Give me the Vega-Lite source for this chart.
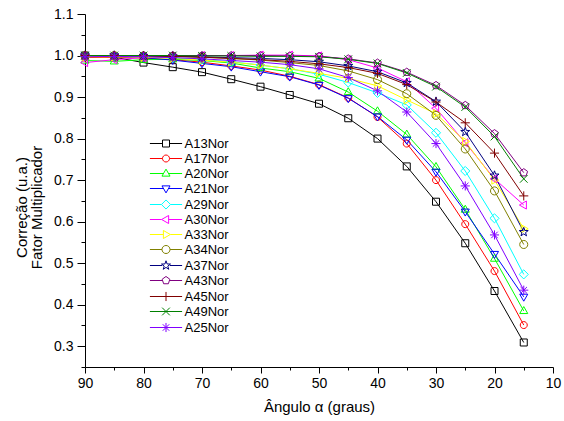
{
  "$schema": "https://vega.github.io/schema/vega-lite/v6.json",
  "width": 468,
  "height": 353,
  "autosize": "none",
  "padding": {"left": 85, "top": 14, "right": 11, "bottom": 54},
  "config": {
    "view": {"stroke": null},
    "font": "Liberation Sans",
    "axis": {
      "grid": false,
      "domainColor": "black",
      "tickColor": "black",
      "labelColor": "black",
      "titleColor": "black",
      "labelFont": "Liberation Sans",
      "titleFont": "Liberation Sans",
      "labelFontSize": 14,
      "titleFontSize": 15,
      "titleFontWeight": "normal",
      "domainWidth": 1,
      "tickWidth": 1
    }
  },
  "data": {
    "values": [
      {"a": 90, "A13Nor": 1.0, "A17Nor": 0.995, "A20Nor": 0.988, "A21Nor": 1.0, "A29Nor": 0.998, "A30Nor": 0.983, "A33Nor": 0.997, "A34Nor": 1.0, "A37Nor": 1.0, "A43Nor": 1.0, "A45Nor": 1.0, "A49Nor": 1.0, "A25Nor": 0.997},
      {"a": 85, "A13Nor": 0.996, "A17Nor": 0.996, "A20Nor": 0.986, "A21Nor": 0.998, "A29Nor": 0.998, "A30Nor": 0.99, "A33Nor": 0.997, "A34Nor": 1.0, "A37Nor": 1.0, "A43Nor": 1.0, "A45Nor": 1.0, "A49Nor": 1.0, "A25Nor": 0.998},
      {"a": 80, "A13Nor": 0.983, "A17Nor": 0.994, "A20Nor": 0.99, "A21Nor": 0.995, "A29Nor": 0.997, "A30Nor": 0.995, "A33Nor": 0.996, "A34Nor": 0.999, "A37Nor": 0.999, "A43Nor": 1.0, "A45Nor": 0.999, "A49Nor": 1.0, "A25Nor": 0.997},
      {"a": 75, "A13Nor": 0.972, "A17Nor": 0.99, "A20Nor": 0.991, "A21Nor": 0.989, "A29Nor": 0.994, "A30Nor": 0.998, "A33Nor": 0.993, "A34Nor": 0.998, "A37Nor": 0.998, "A43Nor": 1.0, "A45Nor": 0.998, "A49Nor": 1.0, "A25Nor": 0.995},
      {"a": 70, "A13Nor": 0.96, "A17Nor": 0.984, "A20Nor": 0.988, "A21Nor": 0.981, "A29Nor": 0.99, "A30Nor": 1.0, "A33Nor": 0.989, "A34Nor": 0.996, "A37Nor": 0.997, "A43Nor": 1.0, "A45Nor": 0.996, "A49Nor": 0.999, "A25Nor": 0.992},
      {"a": 65, "A13Nor": 0.943, "A17Nor": 0.975, "A20Nor": 0.982, "A21Nor": 0.973, "A29Nor": 0.985, "A30Nor": 1.0, "A33Nor": 0.984, "A34Nor": 0.993, "A37Nor": 0.995, "A43Nor": 1.0, "A45Nor": 0.993, "A49Nor": 0.999, "A25Nor": 0.988},
      {"a": 60, "A13Nor": 0.925, "A17Nor": 0.965, "A20Nor": 0.97, "A21Nor": 0.961, "A29Nor": 0.977, "A30Nor": 1.001, "A33Nor": 0.977, "A34Nor": 0.989, "A37Nor": 0.993, "A43Nor": 1.0, "A45Nor": 0.99, "A49Nor": 0.998, "A25Nor": 0.984},
      {"a": 55, "A13Nor": 0.905, "A17Nor": 0.95, "A20Nor": 0.961, "A21Nor": 0.949, "A29Nor": 0.968, "A30Nor": 1.001, "A33Nor": 0.968, "A34Nor": 0.983, "A37Nor": 0.99, "A43Nor": 0.999, "A45Nor": 0.986, "A49Nor": 0.998, "A25Nor": 0.978},
      {"a": 50, "A13Nor": 0.884, "A17Nor": 0.93, "A20Nor": 0.945, "A21Nor": 0.929, "A29Nor": 0.955, "A30Nor": 0.999, "A33Nor": 0.957, "A34Nor": 0.976, "A37Nor": 0.985, "A43Nor": 0.998, "A45Nor": 0.98, "A49Nor": 0.997, "A25Nor": 0.968},
      {"a": 45, "A13Nor": 0.849, "A17Nor": 0.898, "A20Nor": 0.912, "A21Nor": 0.897, "A29Nor": 0.935, "A30Nor": 0.99, "A33Nor": 0.945, "A34Nor": 0.963, "A37Nor": 0.975, "A43Nor": 0.992, "A45Nor": 0.971, "A49Nor": 0.991, "A25Nor": 0.947},
      {"a": 40, "A13Nor": 0.8, "A17Nor": 0.852, "A20Nor": 0.866, "A21Nor": 0.853, "A29Nor": 0.91, "A30Nor": 0.97, "A33Nor": 0.927, "A34Nor": 0.942, "A37Nor": 0.961, "A43Nor": 0.982, "A45Nor": 0.957, "A49Nor": 0.981, "A25Nor": 0.915},
      {"a": 35, "A13Nor": 0.733, "A17Nor": 0.788, "A20Nor": 0.81, "A21Nor": 0.797, "A29Nor": 0.881, "A30Nor": 0.937, "A33Nor": 0.893, "A34Nor": 0.908, "A37Nor": 0.934, "A43Nor": 0.96, "A45Nor": 0.93, "A49Nor": 0.958, "A25Nor": 0.864},
      {"a": 30, "A13Nor": 0.648, "A17Nor": 0.7, "A20Nor": 0.732, "A21Nor": 0.72, "A29Nor": 0.814, "A30Nor": 0.873, "A33Nor": 0.86, "A34Nor": 0.856, "A37Nor": 0.889, "A43Nor": 0.928, "A45Nor": 0.888, "A49Nor": 0.925, "A25Nor": 0.788},
      {"a": 25, "A13Nor": 0.548, "A17Nor": 0.594, "A20Nor": 0.629, "A21Nor": 0.624, "A29Nor": 0.722, "A30Nor": 0.79, "A33Nor": 0.793, "A34Nor": 0.775, "A37Nor": 0.816, "A43Nor": 0.88, "A45Nor": 0.838, "A49Nor": 0.876, "A25Nor": 0.686},
      {"a": 20, "A13Nor": 0.433, "A17Nor": 0.481, "A20Nor": 0.511, "A21Nor": 0.522, "A29Nor": 0.608, "A30Nor": 0.703, "A33Nor": 0.7, "A34Nor": 0.674, "A37Nor": 0.711, "A43Nor": 0.812, "A45Nor": 0.765, "A49Nor": 0.805, "A25Nor": 0.568},
      {"a": 15, "A13Nor": 0.309, "A17Nor": 0.351, "A20Nor": 0.385, "A21Nor": 0.419, "A29Nor": 0.473, "A30Nor": 0.64, "A33Nor": 0.583, "A34Nor": 0.545, "A37Nor": 0.575, "A43Nor": 0.718, "A45Nor": 0.662, "A49Nor": 0.703, "A25Nor": 0.435}
    ]
  },
  "transform": [
    {"fold": ["A13Nor", "A17Nor", "A20Nor", "A21Nor", "A29Nor", "A30Nor", "A33Nor", "A34Nor", "A37Nor", "A43Nor", "A45Nor", "A49Nor", "A25Nor"], "as": ["serie", "valor"]}
  ],
  "encoding": {
    "x": {
      "field": "a",
      "type": "quantitative",
      "scale": {"domain": [10, 90], "reverse": true, "nice": false, "zero": false},
      "axis": {
        "title": "Ângulo α (graus)",
        "values": [90, 85, 80, 75, 70, 65, 60, 55, 50, 45, 40, 35, 30, 25, 20, 15, 10],
        "labelExpr": "datum.value % 10 == 0 ? datum.label : ''",
        "tickSize": {"condition": {"test": "datum.value % 10 != 0", "value": 3}, "value": 6},
        "labelPadding": 3,
        "titlePadding": 9,
        "labelFlush": false
      }
    },
    "y": {
      "field": "valor",
      "type": "quantitative",
      "scale": {"domain": [0.25, 1.1], "nice": false, "zero": false},
      "axis": {
        "title": ["Correção (u.a.)", "Fator Multiplicador"],
        "titleFontSize": 15,
        "titleLineHeight": 15,
        "values": [0.25, 0.3, 0.35, 0.4, 0.45, 0.5, 0.55, 0.6, 0.65, 0.7, 0.75, 0.8, 0.85, 0.9, 0.95, 1.0, 1.05, 1.1],
        "format": ".1f",
        "labelExpr": "round(datum.value * 20) % 2 == 1 ? '' : datum.label",
        "tickSize": {"condition": {"test": "round(datum.value * 20) % 2 == 1", "value": 4}, "value": 8},
        "labelPadding": 4,
        "titleX": -56,
        "titleY": 193,
        "titleBaseline": "bottom",
        "labelFlush": false
      }
    }
  },
  "layer": [
    {
      "mark": {"type": "line", "strokeWidth": 1},
      "encoding": {
        "color": {
          "field": "serie", "type": "nominal",
          "scale": {
            "domain": ["A13Nor", "A17Nor", "A20Nor", "A21Nor", "A29Nor", "A30Nor", "A33Nor", "A34Nor", "A37Nor", "A43Nor", "A45Nor", "A49Nor", "A25Nor"],
            "range": ["#000000", "#FF0000", "#00FF00", "#0000FF", "#00FFFF", "#FF00FF", "#FFFF00", "#808000", "#000080", "#800080", "#800000", "#008000", "#8000FF"]
          },
          "legend": null
        }
      }
    },
    {
      "mark": {"type": "point", "filled": false, "size": 49, "strokeWidth": 1, "opacity": 1},
      "encoding": {
        "color": {
          "field": "serie", "type": "nominal",
          "scale": {
            "domain": ["A13Nor", "A17Nor", "A20Nor", "A21Nor", "A29Nor", "A30Nor", "A33Nor", "A34Nor", "A37Nor", "A43Nor", "A45Nor", "A49Nor", "A25Nor"],
            "range": ["#000000", "#FF0000", "#00FF00", "#0000FF", "#00FFFF", "#FF00FF", "#FFFF00", "#808000", "#000080", "#800080", "#800000", "#008000", "#8000FF"]
          },
          "legend": null
        },
        "shape": {
          "field": "serie", "type": "nominal",
          "scale": {
            "domain": ["A13Nor", "A17Nor", "A20Nor", "A21Nor", "A29Nor", "A30Nor", "A33Nor", "A34Nor", "A37Nor", "A43Nor", "A45Nor", "A49Nor", "A25Nor"],
            "range": [
              "M-1,-1L1,-1L1,1L-1,1Z",
              "M1,0A1,1,0,1,1,-1,0A1,1,0,1,1,1,0Z",
              "M0,-1.25L1.15,0.75L-1.15,0.75Z",
              "M0,1.25L1.15,-0.75L-1.15,-0.75Z",
              "M0,-1.3L1.3,0L0,1.3L-1.3,0Z",
              "M-1.25,0L0.75,-1.15L0.75,1.15Z",
              "M1.25,0L-0.75,-1.15L-0.75,1.15Z",
              "M1.15,0A1.15,1.15,0,1,1,-1.15,0A1.15,1.15,0,1,1,1.15,0Z",
              "M0,-1.35L0.317,-0.437L1.284,-0.417L0.513,0.167L0.794,1.092L0,0.54L-0.794,1.092L-0.513,0.167L-1.284,-0.417L-0.317,-0.437Z",
              "M0,-1.15L1.094,-0.355L0.676,0.93L-0.676,0.93L-1.094,-0.355Z",
              "M-1.3,0L1.3,0M0,-1.3L0,1.3",
              "M-1.1,-1.1L1.1,1.1M-1.1,1.1L1.1,-1.1",
              "M-1.3,0L1.3,0M0,-1.3L0,1.3M-0.92,-0.92L0.92,0.92M-0.92,0.92L0.92,-0.92"
            ]
          },
          "legend": null
        }
      }
    },
    {
      "mark": {"type": "point", "filled": false, "size": 49, "strokeWidth": 1, "opacity": 0},
      "encoding": {
        "color": {
          "field": "serie", "type": "nominal",
          "scale": {
            "domain": ["A13Nor", "A17Nor", "A20Nor", "A21Nor", "A29Nor", "A30Nor", "A33Nor", "A34Nor", "A37Nor", "A43Nor", "A45Nor", "A49Nor", "A25Nor"],
            "range": ["#000000", "#FF0000", "#00FF00", "#0000FF", "#00FFFF", "#FF00FF", "#FFFF00", "#808000", "#000080", "#800080", "#800000", "#008000", "#8000FF"]
          },
          "legend": {
            "title": null, "orient": "none", "legendX": 74.5, "legendY": 123, "direction": "vertical",
            "symbolSize": 49, "symbolStrokeWidth": 1, "symbolOpacity": 1,
            "labelFont": "Liberation Sans", "labelFontSize": 13, "labelColor": "black",
            "labelOffset": 12, "rowPadding": 1.0, "padding": 0
          }
        },
        "shape": {
          "field": "serie", "type": "nominal",
          "scale": {
            "domain": ["A13Nor", "A17Nor", "A20Nor", "A21Nor", "A29Nor", "A30Nor", "A33Nor", "A34Nor", "A37Nor", "A43Nor", "A45Nor", "A49Nor", "A25Nor"],
            "range": [
              "M-4.6,0L-1,0M1,0L4.6,0M-1,-1L1,-1L1,1L-1,1Z",
              "M-4.6,0L-1,0M1,0L4.6,0M1,0A1,1,0,1,1,-1,0A1,1,0,1,1,1,0Z",
              "M-4.6,0L-0.72,0M0.72,0L4.6,0M0,-1.25L1.15,0.75L-1.15,0.75Z",
              "M-4.6,0L-0.72,0M0.72,0L4.6,0M0,1.25L1.15,-0.75L-1.15,-0.75Z",
              "M-4.6,0L-1.3,0M1.3,0L4.6,0M0,-1.3L1.3,0L0,1.3L-1.3,0Z",
              "M-4.6,0L-1.25,0M0.75,0L4.6,0M-1.25,0L0.75,-1.15L0.75,1.15Z",
              "M-4.6,0L-0.75,0M1.25,0L4.6,0M1.25,0L-0.75,-1.15L-0.75,1.15Z",
              "M-4.6,0L-1.15,0M1.15,0L4.6,0M1.15,0A1.15,1.15,0,1,1,-1.15,0A1.15,1.15,0,1,1,1.15,0Z",
              "M-4.6,0L-1.1,0M1.1,0L4.6,0M0,-1.35L0.317,-0.437L1.284,-0.417L0.513,0.167L0.794,1.092L0,0.54L-0.794,1.092L-0.513,0.167L-1.284,-0.417L-0.317,-0.437Z",
              "M-4.6,0L-1.0,0M1.0,0L4.6,0M0,-1.15L1.094,-0.355L0.676,0.93L-0.676,0.93L-1.094,-0.355Z",
              "M-4.6,0L4.6,0M0,-1.3L0,1.3",
              "M-4.6,0L4.6,0M-1.1,-1.1L1.1,1.1M-1.1,1.1L1.1,-1.1",
              "M-4.6,0L4.6,0M0,-1.3L0,1.3M-0.92,-0.92L0.92,0.92M-0.92,0.92L0.92,-0.92"
            ]
          },
          "legend": {
            "title": null, "orient": "none", "legendX": 74.5, "legendY": 123, "direction": "vertical",
            "symbolSize": 49, "symbolStrokeWidth": 1, "symbolOpacity": 1,
            "labelFont": "Liberation Sans", "labelFontSize": 13, "labelColor": "black",
            "labelOffset": 12, "rowPadding": 1.0, "padding": 0
          }
        }
      }
    }
  ],
  "resolve": {"scale": {"color": "independent", "shape": "independent"}}
}
